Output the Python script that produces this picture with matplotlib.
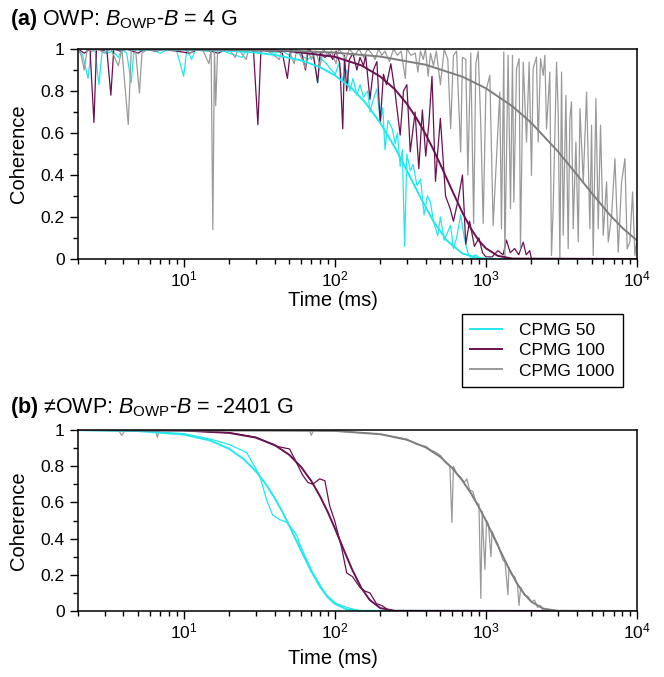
import matplotlib
matplotlib.use('Agg')
import matplotlib.pyplot as plt
from matplotlib.ticker import FuncFormatter, MultipleLocator
from matplotlib.lines import Line2D

plt.rcParams['font.family'] = ['Liberation Sans', 'DejaVu Sans']
plt.rcParams['mathtext.fontset'] = 'custom'
plt.rcParams['mathtext.rm'] = 'Liberation Sans'
plt.rcParams['mathtext.it'] = 'Liberation Sans:italic'
plt.rcParams['mathtext.bf'] = 'Liberation Sans:bold'

labels = ['CPMG 50', 'CPMG 100', 'CPMG 1000']
colors = ['#22E8EE', '#6A1150', '#9A9A9A']
fit_colors = ['#22E8EE', '#6A1150', '#7E7E7E']

# ---- panel (a): OWP, B_OWP - B = 4 G ----
a50_t = [2.0, 2.15, 2.33, 2.45, 2.6, 2.75, 2.9, 3.1, 3.4, 3.7, 3.9, 4.2, 4.5, 4.7, 5.3, 6, 7, 8, 9, 10,
         10.5, 11.3, 12, 14, 17, 20, 24.4, 26, 30, 35, 40, 45, 50, 55, 60, 66, 72, 77, 80, 88, 95, 101,
         106, 113, 120, 126, 132, 140, 147, 155, 165, 171, 180, 190, 200, 208, 215, 225, 240, 251, 260,
         271, 280, 290, 300, 316, 330, 350, 370, 390, 410, 430, 450, 480, 500, 530, 560, 584, 610, 640,
         681, 720, 760, 800, 850, 926, 10000]
a50_v = [1.0, 0.97, 0.86, 1.0, 0.99, 0.83, 1.0, 0.98, 0.99, 0.96, 1.0, 0.98, 0.84, 1.0, 0.99, 1.0, 0.98,
         1.0, 0.99, 0.87, 1.0, 0.95, 1.0, 0.99, 1.0, 0.98, 0.96, 1.0, 0.99, 1.0, 0.98, 0.99, 0.97, 1.0,
         0.97, 0.95, 0.97, 0.84, 0.96, 0.93, 0.90, 0.88, 0.93, 0.85, 0.90, 0.80, 0.86, 0.78, 0.83, 0.77,
         0.80, 0.70, 0.76, 0.81, 0.65, 0.72, 0.52, 0.66, 0.62, 0.55, 0.60, 0.44, 0.52, 0.06, 0.50, 0.42,
         0.45, 0.35, 0.38, 0.21, 0.30, 0.27, 0.18, 0.11, 0.20, 0.09, 0.13, 0.16, 0.05, 0.10, 0.21, 0.10,
         0.03, 0.0, 0.02, 0.0, 0.0]

a100_t = [2.0, 2.2, 2.4, 2.55, 2.65, 2.9, 3.1, 3.3, 3.45, 3.8, 4.2, 5, 5.5, 6.5, 7.5, 9, 11, 12.5, 15,
          17, 19, 22, 26, 29, 31, 32.5, 36, 40, 45, 48.6, 51, 56, 60, 64, 67, 72, 77, 80, 86, 92, 97,
          102, 108, 113, 116, 120, 125, 132, 140, 147, 155, 160, 171, 180, 190, 200, 210, 220, 235,
          250, 271, 285, 300, 316, 340, 360, 380, 400, 420, 440, 464, 480, 500, 541, 580, 610, 650,
          700, 736, 780, 840, 900, 950, 1000, 1100, 1200, 1300, 1368, 1450, 1550, 1650, 1766, 1850,
          1950, 2004, 10000]
a100_v = [1.0, 0.98, 1.0, 0.65, 1.0, 0.99, 1.0, 0.78, 1.0, 0.99, 1.0, 0.98, 1.0, 0.99, 1.0, 0.99, 0.98,
          1.0, 0.99, 0.98, 1.0, 0.99, 1.0, 0.99, 0.64, 1.0, 0.99, 1.0, 0.98, 0.86, 1.0, 0.98, 0.99,
          0.90, 1.0, 0.98, 0.84, 0.98, 0.96, 0.98, 0.95, 0.99, 0.93, 0.62, 0.97, 0.80, 0.95, 0.98, 0.90,
          0.96, 0.92, 0.97, 0.76, 0.90, 0.94, 0.65, 0.88, 0.83, 0.93, 0.80, 0.59, 0.80, 0.83, 0.51,
          0.70, 0.43, 0.71, 0.49, 0.65, 0.87, 0.37, 0.51, 0.67, 0.30, 0.24, 0.18, 0.27, 0.40, 0.07,
          0.18, 0.06, 0.10, 0.03, 0.01, 0.01, 0.04, 0.02, 0.09, 0.03, 0.05, 0.02, 0.08, 0.02, 0.04,
          0.0, 0.0]

a1000_t = [2.0, 2.1, 2.2, 2.3, 2.5, 2.7, 3.0, 3.3, 3.7, 3.9, 4.3, 4.5, 4.8, 5.1, 5.3, 5.8, 6.5, 7.5,
           8.5, 10, 11, 12, 13.5, 14.7, 15.2, 15.6, 16.0, 16.3, 16.8, 18.5, 20, 21.9, 23, 25.9, 27,
           30, 34, 38, 43, 45, 50, 54, 56, 60, 64, 66, 70, 75, 80, 84, 90, 95, 102, 106, 112, 118,
           125, 135, 145, 155, 165, 175, 185, 195, 205, 215, 230, 245, 260, 275, 293, 300, 320, 341,
           355, 369, 385, 398, 415, 430, 450, 470, 500, 530, 560, 585, 610, 640, 681, 700, 736, 760,
           794, 830, 858, 890, 926, 960, 1000, 1062, 1117, 1236, 1268, 1314, 1335, 1403, 1455, 1500,
           1531, 1595, 1660, 1694, 1766, 1858, 1933, 2004, 2055, 2161, 2218, 2300, 2395, 2457, 2519,
           2650, 2718, 2788, 2935, 3010, 3088, 3168, 3250, 3384, 3505, 3595, 3687, 3782, 3942, 4087,
           4193, 4409, 4638, 4878, 5003, 5131, 5348, 5538, 5736, 5980, 6290, 6455, 6792, 7145, 7516,
           7907, 8318, 8610, 8974, 9346, 9683, 10000]
a1000_v = [1.0, 0.97, 0.90, 1.0, 0.99, 1.0, 0.98, 1.0, 0.92, 1.0, 0.64, 0.99, 1.0, 0.79, 0.98, 1.0,
           0.99, 1.0, 0.99, 1.0, 0.98, 1.0, 0.99, 0.93, 1.0, 0.14, 1.0, 0.73, 1.0, 0.99, 1.0, 0.96,
           1.0, 0.95, 1.0, 0.99, 1.0, 0.98, 0.95, 1.0, 0.99, 0.93, 1.0, 0.96, 0.91, 1.0, 0.95, 0.99,
           0.92, 1.0, 0.97, 0.99, 0.93, 1.0, 0.98, 0.95, 1.0, 0.97, 1.0, 0.96, 1.0, 0.98, 0.95, 1.0,
           0.97, 0.99, 0.94, 1.0, 0.97, 0.99, 0.86, 1.0, 0.97, 0.98, 0.89, 0.99, 0.95, 1.0, 0.87, 0.98,
           0.92, 0.99, 0.83, 1.0, 0.95, 0.62, 0.97, 0.99, 0.51, 0.96, 0.95, 0.40, 0.98, 0.17, 0.93,
           0.99, 0.63, 0.17, 0.80, 0.875, 0.16, 0.795, 0.144, 0.986, 0.0, 0.97, 0.24, 0.97, 0.271,
           0.906, 0.954, 0.049, 0.938, 0.557, 0.938, 0.398, 0.906, 0.962, 0.557, 0.954, 0.875, 0.97,
           0.62, 0.89, 0.017, 0.24, 0.938, 0.70, 0.0, 0.89, 0.113, 0.78, 0.049, 0.668, 0.748, 0.144,
           0.557, 0.081, 0.716, 0.367, 0.795, 0.144, 0.637, 0.017, 0.764, 0.144, 0.637, 0.113, 0.367,
           0.081, 0.208, 0.478, 0.033, 0.367, 0.478, 0.049, 0.081, 0.319, 0.017, 0.097]

# fitted decays, panel (a)
fa50_t = [2, 10, 20, 30, 40, 60, 80, 100, 130, 160, 200, 250, 300, 370, 450, 550, 700, 900, 1200, 10000]
fa50_v = [1.0, 0.997, 0.991, 0.983, 0.972, 0.946, 0.913, 0.875, 0.812, 0.743, 0.648, 0.531, 0.422,
          0.291, 0.179, 0.089, 0.026, 0.004, 0.0, 0.0]
fa100_t = [2, 20, 50, 100, 150, 200, 250, 300, 350, 400, 450, 500, 600, 700, 800, 900, 1000, 1200,
           1500, 10000]
fa100_v = [1.0, 0.998, 0.99, 0.963, 0.922, 0.869, 0.808, 0.739, 0.667, 0.593, 0.520, 0.450, 0.324,
           0.220, 0.142, 0.087, 0.051, 0.015, 0.002, 0.0]
fa1000_t = [2, 10, 50, 100, 200, 400, 700, 1000, 1500, 2000, 3000, 4000, 5000, 6500, 8000, 10000]
fa1000_v = [1.0, 0.998, 0.992, 0.983, 0.964, 0.925, 0.868, 0.813, 0.727, 0.648, 0.512, 0.402, 0.315,
            0.216, 0.148, 0.088]

# ---- panel (b): not OWP, B_OWP - B = -2401 G ----
b50_t = [2, 5, 10, 15, 20, 26.1, 31.8, 35.5, 38.8, 43.2, 48.1, 52.6, 56, 58.6, 71.5, 88.4, 103, 120,
         147, 10000]
b50_v = [1.0, 0.995, 0.98, 0.95, 0.92, 0.876, 0.75, 0.61, 0.53, 0.505, 0.49, 0.45, 0.42, 0.37, 0.21,
         0.085, 0.04, 0.02, 0.0, 0.0]
b100_t = [2, 10, 20, 30, 41.3, 50.3, 61.4, 66.4, 71.5, 79.4, 86, 92.6, 99.8, 111, 120, 131, 147, 158,
          171, 189, 205, 231, 10000]
b100_v = [1.0, 0.997, 0.985, 0.96, 0.91, 0.895, 0.75, 0.71, 0.70, 0.73, 0.72, 0.58, 0.50, 0.35, 0.21,
          0.19, 0.13, 0.11, 0.10, 0.04, 0.03, 0.0, 0.0]
b1000_t = [2, 3.7, 3.9, 4.1, 6.5, 6.7, 6.9, 20, 50, 68, 70, 72, 100, 200, 300, 350, 400, 430, 460, 500,
           540, 578, 596, 610, 640, 680, 720, 748, 780, 820, 860, 900, 926, 945, 985, 1010, 1040, 1080,
           1100, 1150, 1200, 1250, 1300, 1340, 1400, 1420, 1480, 1550, 1620, 1656, 1700, 1800, 1900,
           2000, 2100, 2200, 2300, 2400, 10000]
b1000_v = [1.0, 1.0, 0.97, 1.0, 1.0, 0.96, 1.0, 1.0, 0.999, 0.998, 0.97, 0.998, 0.995, 0.977, 0.95,
           0.92, 0.91, 0.89, 0.88, 0.86, 0.82, 0.80, 0.49, 0.80, 0.76, 0.74, 0.71, 0.73, 0.67, 0.66,
           0.60, 0.59, 0.07, 0.55, 0.23, 0.50, 0.48, 0.30, 0.44, 0.40, 0.37, 0.32, 0.28, 0.27, 0.09,
           0.24, 0.20, 0.19, 0.14, 0.03, 0.13, 0.09, 0.08, 0.05, 0.06, 0.02, 0.03, 0.0, 0.0]

fb50_t = [2, 5, 10, 15, 20, 25, 30, 35, 40, 45, 50, 60, 70, 80, 90, 100, 120, 150, 10000]
fb50_v = [0.999, 0.994, 0.975, 0.942, 0.896, 0.839, 0.773, 0.701, 0.625, 0.548, 0.472, 0.332, 0.218,
          0.133, 0.076, 0.040, 0.009, 0.001, 0.0]
fb100_t = [2, 10, 20, 30, 40, 50, 60, 70, 80, 90, 100, 115, 130, 150, 170, 200, 250, 10000]
fb100_v = [1.0, 0.997, 0.984, 0.958, 0.917, 0.863, 0.795, 0.718, 0.633, 0.546, 0.458, 0.336, 0.231,
           0.127, 0.062, 0.016, 0.001, 0.0]
fb1000_t = [2, 100, 200, 300, 400, 500, 600, 700, 800, 900, 1000, 1200, 1400, 1600, 1800, 2000, 2400,
            3000, 10000]
fb1000_v = [1.0, 0.995, 0.977, 0.946, 0.904, 0.851, 0.789, 0.72, 0.648, 0.573, 0.50, 0.361, 0.245,
            0.155, 0.092, 0.051, 0.013, 0.001, 0.0]

fig = plt.figure(figsize=(6.64, 6.77), dpi=100)
ax_a = fig.add_axes([78 / 664, 1 - 259 / 677, 559 / 664, 210 / 677])
ax_b = fig.add_axes([78 / 664, 1 - 611 / 677, 559 / 664, 181 / 677])

panels = [
    (ax_a, 300, [(a50_t, a50_v), (a100_t, a100_v), (a1000_t, a1000_v)],
     [(fa50_t, fa50_v), (fa100_t, fa100_v), (fa1000_t, fa1000_v)]),
    (ax_b, 658, [(b50_t, b50_v), (b100_t, b100_v), (b1000_t, b1000_v)],
     [(fb50_t, fb50_v), (fb100_t, fb100_v), (fb1000_t, fb1000_v)]),
]

for ax, xlab_y, data, fits in panels:
    for (t, v), c in zip(data, colors):
        ax.plot(t, v, color=c, lw=0.9)
    for (t, v), c in zip(fits, fit_colors):
        ax.plot(t, v, color=c, lw=1.4)
    ax.set_xscale('log')
    ax.set_xlim(2, 1e4)
    ax.set_ylim(0, 1)
    ax.yaxis.set_major_locator(MultipleLocator(0.2))
    ax.yaxis.set_minor_locator(MultipleLocator(0.1))
    ax.yaxis.set_major_formatter(FuncFormatter(lambda y, p: '%g' % round(y, 1)))
    ax.tick_params(which='both', direction='out', labelsize=12.5, width=1.0)
    ax.tick_params(which='major', length=6)
    ax.tick_params(which='minor', length=3.5)
    ax.tick_params(axis='x', which='major', pad=1.5)
    for s in ax.spines.values():
        s.set_linewidth(1.1)
    ax.set_xlabel('Time (ms)', fontsize=14.5, va='center')
    ax.set_ylabel('Coherence', fontsize=14.5, va='center')
    # labels placed like the source: x label a bit left of centre
    ax.xaxis.set_label_coords(333 / 664, 1 - xlab_y / 677, transform=fig.transFigure)
    bb = ax.get_position()
    ax.yaxis.set_label_coords(19 / 664, (bb.y0 + bb.y1) / 2, transform=fig.transFigure)

fig.text(10 / 664, 1 - 20 / 677, r'$\mathbf{(a)}$ OWP: $\mathit{B}_{\mathrm{OWP}}$-$\mathit{B}$ = 4 G',
         fontsize=15.5, va='center', ha='left')
fig.text(10 / 664, 1 - 408 / 677, r'$\mathbf{(b)}$ ≠OWP: $\mathit{B}_{\mathrm{OWP}}$-$\mathit{B}$ = -2401 G',
         fontsize=15.5, va='center', ha='left')

handles = [Line2D([], [], color=c, lw=1.4) for c in colors]
fig.legend(handles, labels, loc='upper right', bbox_to_anchor=(623 / 664, 1 - 314 / 677),
           fontsize=12.5, frameon=True, fancybox=False, edgecolor='black', framealpha=1,
           handlelength=1.8, borderpad=0.5, labelspacing=0.3, handletextpad=1.0,
           borderaxespad=0)

fig.savefig('out.png', dpi=100)
